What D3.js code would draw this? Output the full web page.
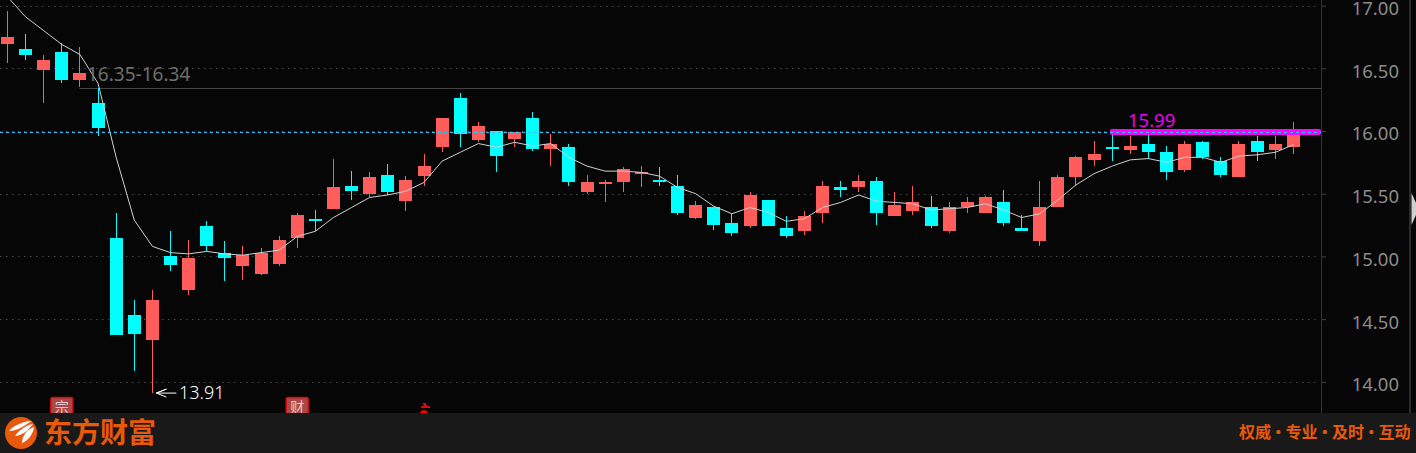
<!DOCTYPE html>
<html><head><meta charset="utf-8">
<script src="https://cdn.jsdelivr.net/npm/d3@7"></script>
<style>html,body{margin:0;padding:0;background:#060606;overflow:hidden}svg{display:block}</style>
</head><body><svg id="c" width="1416" height="453"></svg>
<script>
const opens=[16.69,16.65,16.49,16.63,16.41,16.22,15.15,14.53,14.33,15.00,14.73,15.24,15.03,14.92,14.86,14.94,15.15,15.30,15.38,15.56,15.50,15.65,15.44,15.64,15.87,16.26,15.93,16.00,15.94,16.10,15.86,15.87,15.51,15.58,15.59,15.66,15.61,15.56,15.31,15.39,15.27,15.24,15.45,15.23,15.20,15.35,15.55,15.55,15.60,15.32,15.36,15.39,15.20,15.39,15.35,15.43,15.23,15.12,15.39,15.63,15.77,15.87,15.85,15.90,15.83,15.69,15.91,15.76,15.63,15.92,15.85,15.87];
const closes=[16.75,16.61,16.57,16.41,16.46,16.02,14.37,14.38,14.65,14.93,14.99,15.08,14.99,15.01,15.03,15.13,15.33,15.28,15.55,15.52,15.63,15.51,15.61,15.72,16.10,15.98,16.04,15.80,15.99,15.86,15.90,15.59,15.59,15.59,15.70,15.67,15.59,15.35,15.41,15.25,15.19,15.49,15.24,15.16,15.32,15.56,15.53,15.60,15.35,15.41,15.43,15.24,15.39,15.43,15.47,15.27,15.20,15.39,15.63,15.79,15.82,15.86,15.88,15.83,15.67,15.90,15.79,15.65,15.90,15.83,15.90,15.98];
const highs=[16.96,16.77,16.61,16.70,16.67,16.34,15.35,14.65,14.73,15.20,15.13,15.28,15.12,15.08,15.07,15.16,15.35,15.37,15.78,15.68,15.67,15.74,15.64,15.82,16.10,16.30,16.07,16.00,15.99,16.15,15.98,15.90,15.65,15.61,15.71,15.72,15.71,15.65,15.44,15.39,15.34,15.51,15.45,15.32,15.36,15.60,15.60,15.65,15.63,15.51,15.56,15.48,15.43,15.47,15.48,15.53,15.33,15.60,15.65,15.80,15.92,15.98,15.96,15.97,15.88,15.92,15.92,15.79,15.92,15.96,15.96,16.07];
const lows=[16.54,16.57,16.22,16.38,16.35,15.96,14.37,14.09,13.91,14.88,14.69,15.04,14.80,14.81,14.85,14.92,15.07,15.20,15.38,15.45,15.47,15.49,15.36,15.56,15.83,15.87,15.91,15.67,15.87,15.84,15.72,15.56,15.50,15.43,15.51,15.55,15.56,15.33,15.30,15.21,15.16,15.23,15.24,15.15,15.17,15.27,15.47,15.51,15.25,15.32,15.33,15.23,15.19,15.35,15.35,15.24,15.20,15.08,15.39,15.56,15.72,15.76,15.82,15.78,15.61,15.67,15.78,15.63,15.63,15.76,15.78,15.82];
const ma=[17.07,16.91,16.80,16.69,16.61,16.38,15.79,15.29,15.08,15.03,15.02,15.04,15.02,15.01,15.03,15.05,15.16,15.20,15.31,15.39,15.47,15.49,15.52,15.59,15.76,15.83,15.90,15.87,15.91,15.88,15.90,15.79,15.72,15.68,15.68,15.67,15.64,15.55,15.50,15.40,15.34,15.39,15.35,15.28,15.30,15.39,15.43,15.49,15.44,15.43,15.42,15.37,15.38,15.39,15.42,15.37,15.31,15.34,15.45,15.57,15.66,15.72,15.77,15.78,15.75,15.79,15.79,15.75,15.80,15.81,15.83,15.89];
const priceTicks=[14,14.5,15,15.5,16,16.5,17];
const gapLabel="16.35-16.34", lastLabel="15.99", lowLabel="13.91";
const gapValue=16.34, lastValue=15.99, lowValue=13.91, gapStartIndex=4, lastStartIndex=61, lowIndex=8, eventIndex=23;
const badges=[{i:3,t:"宗"},{i:16,t:"财"}];
const brand="东方财富", slogan="权威 · 专业 · 及时 · 互动";

const W=1416,H=453,footerY=413,axisX=1321;
const svg=d3.select("#c");
const n=closes.length;
const x=d3.scaleLinear().domain([0,n-1]).range([7.5,1293.3]);
const y=d3.scaleLinear().domain([14,17]).range([381.8,5.6]);
const RED="#ff5c5c",CY="#00ffff";
const yp=v=>Math.round(y(v));
const xp=i=>Math.round(x(i)-0.5)+0.5;

svg.append("rect").attr("width",W).attr("height",H).attr("fill","#060606");
// grid
svg.append("g").selectAll("line").data(priceTicks).join("line")
 .attr("x1",0).attr("x2",1319).attr("y1",d=>Math.round(y(d))+0.5).attr("y2",d=>Math.round(y(d))+0.5)
 .attr("stroke","#4a4a4a").attr("stroke-dasharray","1.5 4.5");
// gap line
svg.append("line").attr("x1",xp(gapStartIndex)).attr("x2",axisX).attr("y1",yp(gapValue)+0.5).attr("y2",yp(gapValue)+0.5)
 .attr("stroke","#444").attr("stroke-width",1);
// candles
const idx=d3.range(n);
const color=i=>closes[i]>=opens[i]?RED:CY;
svg.append("g").selectAll("line").data(idx).join("line")
 .attr("x1",xp).attr("x2",xp).attr("y1",i=>yp(highs[i])).attr("y2",i=>yp(lows[i]))
 .attr("stroke",color).attr("stroke-width",1);
svg.append("g").selectAll("rect").data(idx).join("rect")
 .attr("x",i=>xp(i)-6.5).attr("width",13)
 .attr("y",i=>yp(Math.max(opens[i],closes[i])))
 .attr("height",i=>Math.max(2,yp(Math.min(opens[i],closes[i]))-yp(Math.max(opens[i],closes[i]))))
 .attr("fill",color).attr("shape-rendering","crispEdges");
// MA
svg.append("path").datum(idx).attr("fill","none").attr("stroke","#d0d0d0").attr("stroke-width",1)
 .attr("d",d3.line().x(i=>x(i)).y(i=>y(ma[i])));
// last price band + dashed line
const lastRow=Math.floor(y(lastValue));
svg.append("rect").attr("x",Math.round(x(lastStartIndex))-2).attr("width",axisX-Math.round(x(lastStartIndex))+2)
 .attr("y",lastRow-3).attr("height",6).attr("rx",2).attr("fill","#ff00ff");
svg.append("line").attr("x1",0).attr("x2",axisX).attr("y1",lastRow+.5).attr("y2",lastRow+.5)
 .attr("stroke","#33c4ff").attr("stroke-dasharray","3 3").attr("shape-rendering","crispEdges");
const font='"Noto Sans",sans-serif';
svg.append("text").attr("x",87).attr("y",81).attr("fill","#6e6e6e").attr("font-family",font).attr("font-size",19).text(gapLabel);
svg.append("text").attr("x",1128).attr("y",127).attr("fill","#f000f0").attr("font-family",font).attr("font-size",18.5).text(lastLabel);
// low arrow
const lx=x(lowIndex)+4,ly=y(lowValue);
svg.append("path").attr("fill","none").attr("stroke","#fff").attr("stroke-width",1)
 .attr("d",d3.line()([[lx+20,ly],[lx,ly],[lx+10,ly-4],[lx,ly],[lx+10,ly+4]]));
svg.append("text").attr("x",179).attr("y",ly+6).attr("fill","#fff").attr("font-family",font).attr("font-size",18).attr("font-weight",300).text(lowLabel);
// badges
const bg=svg.append("g").selectAll("g").data(badges).join("g");
bg.append("rect").attr("x",d=>x(d.i)-11).attr("y",397.5).attr("width",22).attr("height",20).attr("rx",2)
 .attr("fill","#a84848").attr("stroke","#d01010").attr("stroke-width",1.5);
bg.append("text").attr("x",d=>x(d.i)).attr("y",411.5).attr("text-anchor","middle").attr("fill","#e8c8c8")
 .attr("font-family",'"Noto Sans CJK SC"').attr("font-size",14).text(d=>d.t);
// red event marker
const ex=x(eventIndex);
svg.append("path").attr("transform",`translate(${ex},403)`)
 .attr("d","M-1.5 0 h3 l1.5 3 h3 v2 h-9 v-2 h3z M-4 9 q4 -4 8 0 v2 h-2 q-2 -2 -4 0 h-2z").attr("fill","#e00808");
// footer
svg.append("rect").attr("y",footerY).attr("width",W).attr("height",H-footerY).attr("fill","#191919");
// axis
svg.append("line").attr("x1",axisX+.5).attr("x2",axisX+.5).attr("y1",0).attr("y2",footerY).attr("stroke","#333");
svg.append("line").attr("x1",1410).attr("x2",1410).attr("y1",0).attr("y2",footerY).attr("stroke","#2c2c2c").attr("stroke-width",2);
const axis=d3.axisRight(y).tickValues(priceTicks).tickFormat(d3.format(".2f")).tickSize(4).tickPadding(28);
const ag=svg.append("g").attr("transform",`translate(${axisX+1},0)`).call(axis);
ag.select(".domain").remove();
ag.selectAll("line").attr("stroke","#444");
ag.selectAll("text").attr("fill","#8c8c8c").attr("font-family",font).attr("font-size",18.5).attr("text-anchor","end").attr("x",77).attr("y",3);
svg.append("path").attr("d",d3.line()([[1411.5,193],[1416,203],[1416,215],[1411.5,225]])).attr("fill","#cfcfcf");
// logo
const lg=svg.append("g").attr("transform","translate(21,433)");
lg.append("circle").attr("r",16).attr("fill","#e8590c");
lg.append("path").attr("d","M-12 -2 C-6 -9 5 -12 11 -12 C4 -8 -3 -2 -12 -2Z M-6 3 C-1 -4 6 -8 12 -9 C7 -3 3 2 -6 3Z M1 10 C1 2 7 -4 13 -6 C12 1 8 7 1 10Z").attr("fill","#fff");
svg.append("text").attr("x",44).attr("y",443).attr("fill","#e8590c").attr("font-family",'"Noto Sans CJK SC"').attr("font-weight",700).attr("font-size",28).text(brand);
svg.append("text").attr("x",1239).attr("y",438).attr("fill","#e8590c").attr("font-family",'"Noto Sans CJK SC"').attr("font-weight",700).attr("font-size",16).attr("word-spacing",-4.4).text(slogan);
</script></body></html>
